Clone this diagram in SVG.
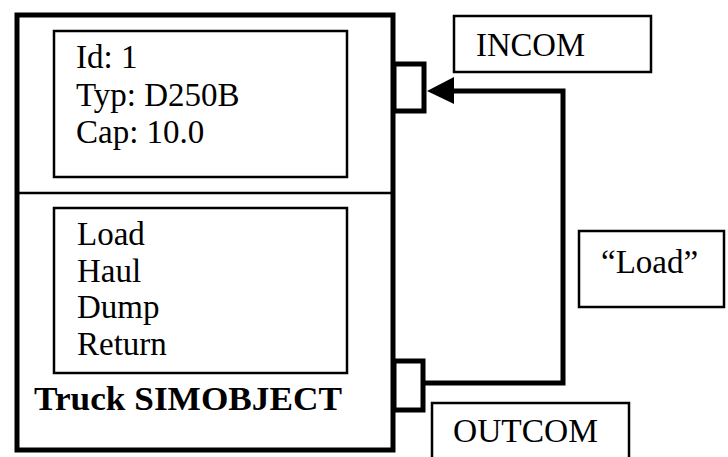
<svg xmlns="http://www.w3.org/2000/svg" width="728" height="457" viewBox="0 0 728 457">
<style>
text{font-family:"Liberation Serif","Times New Roman",serif;fill:#000}
.t{font-size:33px}
.b{font-size:33px;font-weight:bold}
.thin{fill:#fff;stroke:#000;stroke-width:2.5}
.thick{fill:#fff;stroke:#000;stroke-width:5}
.conn{fill:none;stroke:#000;stroke-width:5}
</style>
<rect width="728" height="457" fill="#fff"/>
<g id="truck">
<rect class="thick" x="17" y="15" width="376" height="435"/>
<line x1="17" y1="193" x2="393" y2="193" stroke="#000" stroke-width="2.5"/>
</g>
<g id="attributes">
<rect class="thin" x="54" y="31" width="293" height="146"/>
<text class="t" x="76" y="68">Id: 1</text>
<text class="t" x="76" y="106">Typ: D250B</text>
<text class="t" x="76" y="143">Cap: 10.0</text>
</g>
<g id="methods">
<rect class="thin" x="54" y="208" width="293" height="165"/>
<text class="t" x="77" y="245">Load</text>
<text class="t" x="77" y="282">Haul</text>
<text class="t" x="77" y="318">Dump</text>
<text class="t" x="77" y="355">Return</text>
</g>
<text class="b" x="188" y="410" text-anchor="middle" textLength="308" lengthAdjust="spacingAndGlyphs">Truck SIMOBJECT</text>
<g id="incom-port">
<rect class="thick" x="394" y="64" width="30" height="47" stroke-width="4.5"/>
</g>
<g id="outcom-port">
<rect class="thick" x="394" y="361" width="29" height="49" stroke-width="4.5"/>
</g>
<g id="incom-label">
<rect class="thin" x="454" y="16" width="197" height="56"/>
<text class="t" x="476" y="56" textLength="109" lengthAdjust="spacingAndGlyphs">INCOM</text>
</g>
<g id="load-label">
<rect class="thin" x="579" y="231" width="145" height="76"/>
<text class="t" x="601" y="273">“Load”</text>
</g>
<g id="outcom-label">
<rect class="thin" x="432" y="403" width="197" height="60"/>
<text class="t" x="453" y="442" textLength="145" lengthAdjust="spacingAndGlyphs">OUTCOM</text>
</g>
<g id="connectors">
<polyline class="conn" points="424,383 563,383 563,91 450,91"/>
<polygon points="427,91 454,77 454,104" fill="#000"/>
</g>
</svg>
